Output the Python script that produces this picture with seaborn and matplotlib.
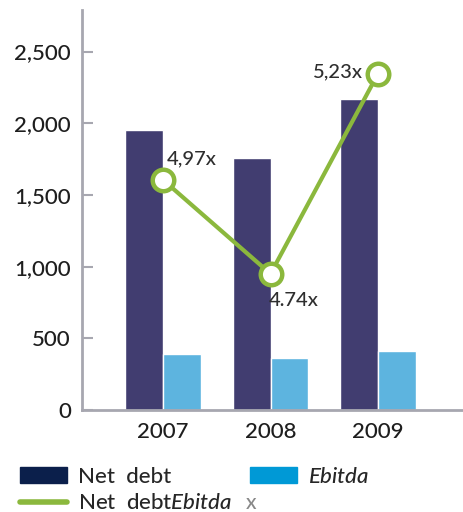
import pandas as pd
import matplotlib.pyplot as plt
import seaborn as sns
from matplotlib.patches import Patch
from matplotlib.lines import Line2D

# chart data
years = ['2007', '2008', '2009']
net_debt = [1950, 1760, 2170]
ebitda = [390, 360, 410]
ratio = [4.97, 4.74, 5.23]
ratio_labels = ['4,97x', '4.74x', '5,23x']
y_ticks = [0, 500, 1000, 1500, 2000, 2500]
y_tick_labels = ['0', '500', '1,000', '1,500', '2,000', '2,500']

navy = '#413d70'
sky = '#5db4df'
green = '#8bb83d'
grey = '#a7a7b0'

sns.set_style('white')
plt.rcParams['font.family'] = ['Lato', 'DejaVu Sans']
plt.rcParams['font.weight'] = 'medium'
plt.rcParams['mathtext.fontset'] = 'custom'
plt.rcParams['mathtext.it'] = 'Lato:italic:medium'
plt.rcParams['mathtext.rm'] = 'Lato:medium'

df = pd.DataFrame({
    'year': years * 2,
    'value': net_debt + ebitda,
    'series': ['Net debt'] * 3 + ['Ebitda'] * 3,
})

fig = plt.figure(figsize=(4.63, 5.12), dpi=100)
ax = fig.add_axes([82 / 463, 1 - 410 / 512, 381 / 463, 400 / 512])

sns.barplot(data=df, x='year', y='value', hue='series', palette=[navy, sky],
            width=0.7, saturation=1, ax=ax, legend=False)
ax.set_ylim(0, 2790)
ax.set_yticks(y_ticks)
ax.set_yticklabels(y_tick_labels)
ax.set_xlabel('')
ax.set_ylabel('')
ax.tick_params(axis='y', direction='in', length=8, width=1.5, color=grey,
               labelsize=16, pad=8, labelcolor='#1e1e1e')
ax.tick_params(axis='x', length=0, labelsize=16, pad=9, labelcolor='#1e1e1e')
for side in ['top', 'right']:
    ax.spines[side].set_visible(False)
for side in ['left', 'bottom']:
    ax.spines[side].set_color(grey)
    ax.spines[side].set_linewidth(2)

# ratio line on a hidden secondary scale
ax2 = ax.twinx()
sns.pointplot(x=years, y=ratio, ax=ax2, color=green, errorbar=None,
              markers='o', markersize=15.5, markerfacecolor='white',
              markeredgewidth=3.2, linewidth=3)
ax2.set_ylim(4.4067, 5.3856)
ax2.set_xlim(-0.753, 2.79)
ax.set_xlim(-0.753, 2.79)
ax2.axis('off')

offsets = [((3, 15), 'left', 'center'), ((-1, -19), 'left', 'center'), ((-11, 1), 'right', 'center')]
for i, (r, lab) in enumerate(zip(ratio, ratio_labels)):
    (dx, dy), ha, va = offsets[i]
    ax2.annotate(lab, (i, r), xytext=(dx, dy), textcoords='offset points',
                 ha=ha, va=va, fontsize=14.5, color='#2e2e2e')

handles = [Patch(color='#0b1f4b'), Line2D([0], [0], color=green, lw=4), Patch(color='#0099d6')]
labels = ['Net  debt', 'Net  debt$\\it{Ebitda}$', '$\\it{Ebitda}$']
fig.legend(handles, labels, ncol=2, loc='upper left', bbox_to_anchor=(0.02, 0.11),
           frameon=False, fontsize=16, handlelength=2.1, handleheight=0.7,
           handletextpad=0.5, columnspacing=0.8, labelspacing=0.3, borderpad=0)
fig.text(246 / 463, 1 - 503 / 512, 'x', fontsize=15, color='#888888', va='center')

fig.savefig('out.png', dpi=100)
